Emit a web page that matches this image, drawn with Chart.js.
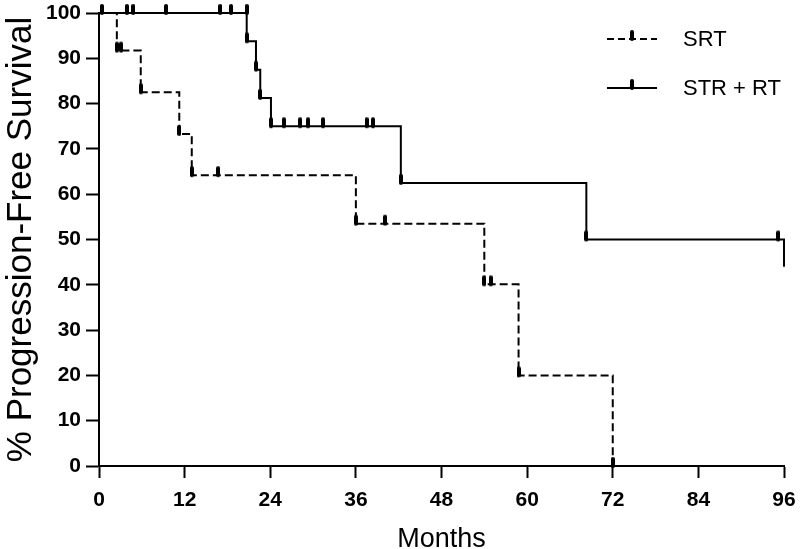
<!DOCTYPE html>
<html>
<head>
<meta charset="utf-8">
<script src="https://cdn.jsdelivr.net/npm/chart.js@4.4.0/dist/chart.umd.min.js"></script>
<style>
  html, body { margin: 0; padding: 0; background: #fff; }
  #wrap { width: 800px; height: 549px; }
</style>
</head>
<body>
<div id="wrap"><canvas id="myChart" width="800" height="549"></canvas></div>
<script>

// series names
const seriesNames = ['SRT', 'STR + RT'];

// SRT step curve (months, % progression-free)
const srtTime = [0, 2.5, 5.85, 11.25, 13, 36, 54, 58.8, 72];
const srtSurv = [100, 91.7, 82.5, 73.3, 64.2, 53.5, 40.1, 20, 0];
// SRT tick marks
const srtMarkTime = [2.5, 3.1, 5.85, 11.25, 13, 16.7, 36, 40.1, 54, 54.9, 58.8, 72];
const srtMarkSurv = [91.7, 91.7, 82.5, 73.3, 64.2, 64.2, 53.5, 53.5, 40.1, 40.1, 20, 0];

// STR + RT step curve
const strTime = [0, 20.7, 22.0, 22.6, 24.1, 42.3, 68.3, 96, 96];
const strSurv = [100, 93.75, 87.5, 81.25, 75, 62.5, 50, 50, 44];
// STR + RT tick marks
const strMarkTime = [0.4, 3.9, 4.8, 9.4, 17.0, 18.5, 20.7, 20.7, 22.0, 22.6, 24.1, 25.9, 28.2, 29.3, 31.4, 37.5, 38.4, 42.3, 68.3, 95.2];
const strMarkSurv = [100, 100, 100, 100, 100, 100, 100, 93.75, 87.5, 81.25, 75, 75, 75, 75, 75, 75, 75, 62.5, 50, 50];

// axis ticks
const xTicks = [0, 12, 24, 36, 48, 60, 72, 84, 96];
const yTicks = [0, 10, 20, 30, 40, 50, 60, 70, 80, 90, 100];

const FONT = "'Liberation Sans', Arial, sans-serif";

function toPoints(xs, ys) {
    let pts = [];
    for (let i = 0; i < xs.length; i++) {
        pts.push({x: xs[i], y: ys[i]});
    }
    return pts;
}

// censor mark: small capsule sitting mostly above the line
function makeMark() {
    const c = document.createElement('canvas');
    c.width = 4;
    c.height = 24;
    const g = c.getContext('2d');
    g.fillStyle = '#000';
    g.beginPath();
    g.roundRect(0, 3, 4, 11, 2);
    g.fill();
    return c;
}
const mark = makeMark();

// legend drawn inside the plot, top right
const insideLegend = {
    id: 'insideLegend',
    afterDraw(chart) {
        const ctx = chart.ctx;
        const rows = [39, 88];
        ctx.save();
        for (let i = 0; i < seriesNames.length; i++) {
            const y = rows[i];
            ctx.strokeStyle = '#000';
            ctx.lineWidth = 2;
            ctx.setLineDash(i == 0 ? [7, 4] : []);
            ctx.beginPath();
            ctx.moveTo(607, y);
            ctx.lineTo(657, y);
            ctx.stroke();
            ctx.setLineDash([]);
            ctx.drawImage(mark, 632 - 2, y - 12);
            ctx.fillStyle = '#000';
            ctx.font = '22px ' + FONT;
            ctx.textBaseline = 'middle';
            ctx.textAlign = 'left';
            ctx.fillText(seriesNames[i], 683, y + 1);
        }
        ctx.restore();
    }
};

function render_chart() {
    const ctx = document.getElementById('myChart');
    const myChart = new Chart(ctx, {
        type: 'line',
        data: {
            datasets: [
                {
                    label: seriesNames[0],
                    data: toPoints(srtTime, srtSurv),
                    stepped: 'before',
                    borderColor: '#000',
                    borderWidth: 2,
                    borderDash: [8, 4],
                    pointRadius: 0,
                    fill: false,
                    clip: false
                },
                {
                    label: seriesNames[1],
                    data: toPoints(strTime, strSurv),
                    stepped: 'before',
                    borderColor: '#000',
                    borderWidth: 2,
                    pointRadius: 0,
                    fill: false,
                    clip: false
                },
                {
                    label: 'srt marks',
                    data: toPoints(srtMarkTime, srtMarkSurv),
                    showLine: false,
                    pointStyle: mark,
                    pointRadius: 5,
                    clip: false
                },
                {
                    label: 'str marks',
                    data: toPoints(strMarkTime, strMarkSurv),
                    showLine: false,
                    pointStyle: mark,
                    pointRadius: 5,
                    clip: false
                }
            ]
        },
        options: {
            responsive: false,
            animation: false,
            events: [],
            layout: { padding: { top: 13, right: 16, left: 0, bottom: 0 } },
            plugins: {
                legend: { display: false },
                tooltip: { enabled: false }
            },
            scales: {
                x: {
                    type: 'linear',
                    min: 0,
                    max: 96,
                    afterFit: function (s) {
                        s.height = 83;
                        s.paddingLeft = 0;
                        s.paddingRight = 0;
                    },
                    afterBuildTicks: function (s) { s.ticks = xTicks.map(v => ({value: v})); },
                    grid: { drawOnChartArea: false, tickLength: 12, tickWidth: 2, tickColor: '#000' },
                    border: { display: true, color: '#000', width: 2 },
                    ticks: {
                        autoSkip: false,
                        maxRotation: 0,
                        padding: 10,
                        color: '#000',
                        font: { family: FONT, size: 21, weight: 'bold' }
                    },
                    title: {
                        display: true,
                        text: 'Months',
                        color: '#000',
                        padding: { top: 0, bottom: -7 },
                        font: { family: FONT, size: 27 }
                    }
                },
                y: {
                    min: 0,
                    max: 100,
                    afterFit: function (s) {
                        s.width = 99;
                        s.paddingTop = 0;
                        s.paddingBottom = 0;
                    },
                    afterBuildTicks: function (s) { s.ticks = yTicks.map(v => ({value: v})); },
                    grid: { drawOnChartArea: false, tickLength: 13, tickWidth: 2, tickColor: '#000' },
                    border: { display: true, color: '#000', width: 2 },
                    ticks: {
                        padding: 5,
                        color: '#000',
                        font: { family: FONT, size: 21, weight: 'bold' }
                    },
                    title: {
                        display: true,
                        text: '% Progression-Free Survival',
                        color: '#000',
                        padding: { top: 0, bottom: 0 },
                        font: { family: FONT, size: 35 }
                    }
                }
            }
        },
        plugins: [insideLegend]
    });
    myChart.render();
}

render_chart();
</script>
</body>
</html>
